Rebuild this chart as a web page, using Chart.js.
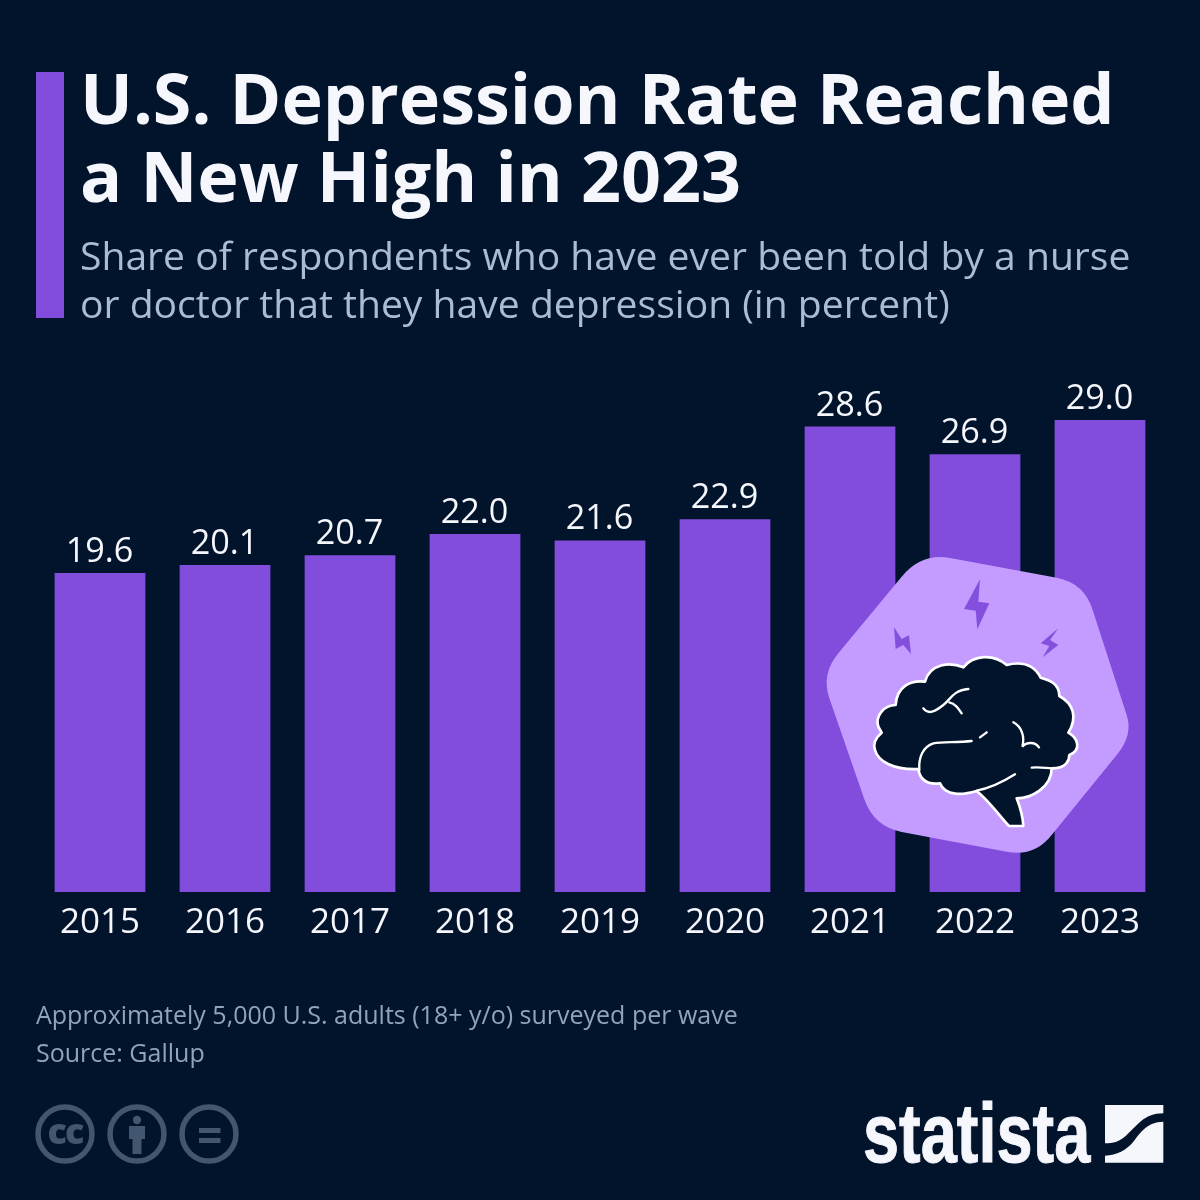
<!DOCTYPE html>
<html>
<head>
<meta charset="utf-8">
<title>U.S. Depression Rate</title>
<script src="https://cdn.jsdelivr.net/npm/chart.js@4"></script>
<style>
  html, body { margin: 0; padding: 0; background: #02132c; }
  #page { position: relative; width: 1200px; height: 1200px; overflow: hidden; background: #02132c; font-family: "Open Sans", sans-serif; }
  #page > * { position: absolute; }
  #chart { left: 0; top: 0; }
  #accent { left: 36px; top: 72px; width: 28px; height: 246px; background: #824ddc; }
  .title { left: 80px; margin: 0; font-size: 70px; font-weight: 700; line-height: 77.5px; color: #f5f7fc; white-space: nowrap; }
  .sub { left: 80px; font-size: 39.1px; line-height: 48px; color: #a9bcd6; white-space: nowrap; }
  .note { left: 36px; font-size: 25px; line-height: 38px; color: #93a3ba; white-space: nowrap; }
  svg { left: 0; top: 0; }
</style>
</head>
<body>
<div id="page">
  <canvas id="chart" width="1200" height="1200"></canvas>
  <div id="accent"></div>
  <h1 class="title" style="top:59px">U.S. Depression Rate Reached<br>a New High in 2023</h1>
  <div class="sub" style="top:231px">Share of respondents who have ever been told by a nurse<br>or doctor that they have depression (in percent)</div>
  <div class="note" style="top:995px">Approximately 5,000 U.S. adults (18+ y/o) surveyed per wave<br>Source: Gallup</div>

  <!-- brain badge -->
  <svg style="left:810px;top:540px" width="340" height="330" viewBox="0 0 1020 990">
    <path fill="#c49cff" d="M275,110 Q335,38 420,54 L740,113 Q823,129 848,210 L950,525 Q970,585 920,645 L725,885 Q672,952 590,935 L275,876 Q192,860 163,778 L58,475 Q33,403 85,340 Z"/>
    <g fill="#8250dc">
      <path d="M510,118 L462,207 L497,212 L502,268 L538,190 L505,185 Z"/>
      <path d="M252,262 L257,327 L280,315 L303,342 L297,286 L275,297 Z"/>
      <path d="M745,265 L692,310 L718,318 L698,352 L745,315 L720,300 Z"/>
    </g>
    <path fill="#02132c" stroke="#fff" stroke-width="8" stroke-linejoin="round" d="M597,858 L640,858 C638,825 630,800 620,775 C660,775 725,745 725,685 C770,685 778,660 778,645 C815,630 805,595 775,578 C805,530 788,490 748,468 C748,430 718,420 692,413 C670,370 630,365 590,375 C550,340 490,345 460,382 C420,365 360,370 345,425 C300,420 260,440 257,495 C220,495 195,530 205,560 L215,578 C195,595 188,610 195,630 C205,665 250,690 325,687 C330,720 350,735 390,730 C405,770 460,765 500,753 C540,785 570,830 597,858 Z"/>
    <g fill="none" stroke="#fff" stroke-width="7" stroke-linecap="round">
      <path d="M485,603 C440,608 400,605 370,610 C340,620 325,650 328,690"/>
      <path d="M500,752 C540,745 580,725 615,703"/>
      <path d="M665,683 C690,680 710,685 725,685"/>
      <path d="M340,505 C355,525 375,515 400,495 C420,480 430,450 475,447"/>
      <path d="M418,487 C435,490 445,505 455,520"/>
      <path d="M510,592 L530,577"/>
      <path d="M610,547 C635,560 645,590 637,620 C650,605 675,605 687,622"/>
    </g>
  </svg>

  <!-- licence icons -->
  <svg width="260" height="1200" viewBox="0 0 260 1200">
    <g fill="none" stroke="#43566f" stroke-width="5.5">
      <circle cx="65" cy="1134" r="27"/>
      <circle cx="137" cy="1134" r="27"/>
      <circle cx="209" cy="1134" r="27"/>
    </g>
    <g fill="#43566f">
      <text x="65" y="1144" text-anchor="middle" font-family="Open Sans" font-weight="800" font-size="36" letter-spacing="-2">cc</text>
      <circle cx="137" cy="1120" r="4.2"/>
      <path d="M129,1126 H145 V1139 H141.5 V1154 H132.5 V1139 H129 Z"/>
      <rect x="199" y="1128" width="21.5" height="5"/>
      <rect x="199" y="1138" width="21.5" height="5"/>
    </g>
  </svg>

  <!-- wordmark -->
  <svg style="left:850px;top:1090px" width="330" height="90" viewBox="0 0 990 270">
    <text x="39" y="215" fill="#f5f7fc" stroke="#f5f7fc" stroke-width="3" font-family="Liberation Sans" font-weight="700" font-size="248" textLength="682" lengthAdjust="spacingAndGlyphs">statista</text>
    <g fill="#f5f7fc">
      <path d="M765,45 H940 V70 C880,70 860,110 830,135 C810,155 790,160 765,160 Z"/>
      <path d="M940,95 C890,95 870,130 850,155 C830,180 800,195 765,197 V218 H940 Z"/>
    </g>
  </svg>
</div>

<script>
// survey waves and share of respondents (percent)
const years = ['2015', '2016', '2017', '2018', '2019', '2020', '2021', '2022', '2023'];
const rates = [19.6, 20.1, 20.7, 22.0, 21.6, 22.9, 28.6, 26.9, 29.0];

const barColor = '#824ddc';
const labelColor = '#f5f7fc';

// value labels above the bars
const barValueLabels = {
    id: 'barValueLabels',
    afterDatasetsDraw(chart) {
        const ctx = chart.ctx;
        ctx.save();
        ctx.font = "34.2px 'Open Sans'";
        ctx.fillStyle = labelColor;
        ctx.textAlign = 'center';
        ctx.textBaseline = 'alphabetic';
        chart.getDatasetMeta(0).data.forEach((bar, i) => {
            ctx.fillText(rates[i].toFixed(1), bar.x - 0.5, bar.y - 11);
        });
        ctx.restore();
    }
};

new Chart(document.getElementById('chart').getContext('2d'), {
    type: 'bar',
    data: {
        labels: years,
        datasets: [{
            data: rates,
            backgroundColor: barColor,
            categoryPercentage: 1,
            barPercentage: 0.726
        }]
    },
    options: {
        responsive: false,
        animation: false,
        layout: {
            padding: { left: 37.5, right: 37.5, top: 403.8, bottom: 0 }
        },
        plugins: {
            legend: { display: false },
            tooltip: { enabled: false }
        },
        scales: {
            x: {
                grid: { display: false },
                border: { display: false },
                ticks: {
                    color: labelColor,
                    padding: 2,
                    maxRotation: 0,
                    font: { family: "'Open Sans'", size: 35 }
                },
                afterFit(scale) {
                    scale.height = 308;
                }
            },
            y: {
                display: false,
                min: 0,
                max: 30
            }
        }
    },
    plugins: [barValueLabels]
});
</script>
</body>
</html>
